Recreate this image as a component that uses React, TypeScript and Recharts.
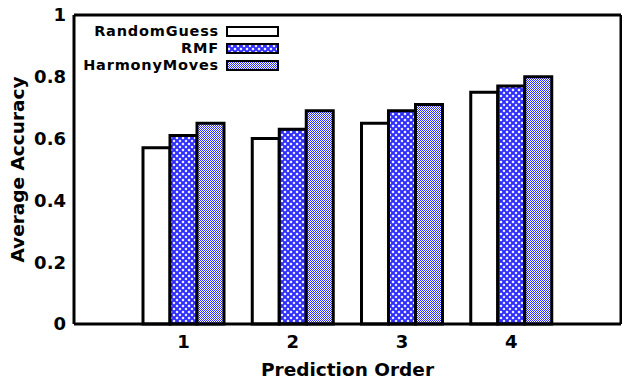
import { BarChart, Bar, XAxis, YAxis } from 'recharts'

const orders = ['1', '2', '3', '4']
const randomGuess = [0.57, 0.6, 0.65, 0.75]
const rmf = [0.61, 0.63, 0.69, 0.77]
const harmonyMoves = [0.65, 0.69, 0.71, 0.8]
const yTicks = [0, 0.2, 0.4, 0.6, 0.8, 1]
const seriesNames = ['RandomGuess', 'RMF', 'HarmonyMoves']

const data = orders.map((order, i) => ({
  order,
  randomGuess: randomGuess[i],
  rmf: rmf[i],
  harmonyMoves: harmonyMoves[i],
}))

const FONT = '"DejaVu Sans", Verdana, sans-serif'
const BLUE = '#2e2eff'

function Patterns({ prefix }: { prefix: string }) {
  return (
    <defs>
      <pattern id={`${prefix}Hatch`} width="6" height="6" patternUnits="userSpaceOnUse">
        <rect width="6" height="6" fill="#ffffff" />
        <path d="M-1,1 L1,-1 M0,6 L6,0 M5,7 L7,5" stroke={BLUE} strokeWidth="2" />
        <path d="M-1,5 L1,7 M0,0 L6,6 M5,-1 L7,1" stroke={BLUE} strokeWidth="2" />
      </pattern>
      <pattern id={`${prefix}Check`} width="2" height="2" patternUnits="userSpaceOnUse">
        <rect width="2" height="2" fill="#ffffff" />
        <rect width="1" height="1" fill={BLUE} />
        <rect x="1" y="1" width="1" height="1" fill={BLUE} />
      </pattern>
    </defs>
  )
}

const fillsFor = (prefix: string) => ['#ffffff', `url(#${prefix}Hatch)`, `url(#${prefix}Check)`]
const fills = fillsFor('bar')
const keyFills = fillsFor('key')

// key box drawn over the plot, top-left, gnuplot style
function LegendBox() {
  return (
    <div style={{ position: 'absolute', left: 40, top: 23, width: 239, fontFamily: FONT, fontWeight: 'bold', fontSize: 14.5, letterSpacing: 0.8 }}>
      {seriesNames.map((name, i) => (
        <div key={name} style={{ display: 'flex', alignItems: 'center', justifyContent: 'flex-end', height: 17 }}>
          <span style={{ lineHeight: '17px' }}>{name}</span>
          <svg width={53} height={11} style={{ marginLeft: 7, display: 'block' }}>
            <Patterns prefix="key" />
            <rect x={1} y={1} width={51} height={9} fill={keyFills[i]} stroke="#000" strokeWidth={2} />
          </svg>
        </div>
      ))}
    </div>
  )
}

const tickStyle = { fill: '#000', fontFamily: FONT, fontWeight: 'bold', fontSize: 18 }
const titleStyle = { fontFamily: FONT, fontWeight: 'bold', fontSize: 18.5 }

export default function App() {
  return (
    <div style={{ position: 'absolute', left: 0, top: 0, width: 622, height: 379, background: '#fff' }}>
      <BarChart
        width={622}
        height={379}
        data={data}
        margin={{ top: 15, right: 1, bottom: 0, left: 0 }}
        barGap={0}
        barCategoryGap={0}
      >
        <Patterns prefix="bar" />
        <XAxis
          xAxisId="main"
          dataKey="order"
          height={55}
          padding={{ left: 55, right: 55 }}
          axisLine={{ stroke: '#000', strokeWidth: 3 }}
          tickLine={false}
          tickSize={0}
          tickMargin={11}
          tick={tickStyle}
          label={{
            content: ({ viewBox }: any) => (
              <text
                x={viewBox.x + viewBox.width / 2}
                y={viewBox.y + 52}
                textAnchor="middle"
                fill="#000"
                style={titleStyle}
              >
                Prediction Order
              </text>
            ),
          }}
        />
        <XAxis
          xAxisId="bottomTicks"
          dataKey="order"
          mirror
          padding={{ left: 55, right: 55 }}
          axisLine={false}
          tick={false}
          tickSize={6}
          tickLine={{ stroke: '#000', strokeWidth: 3 }}
        />
        <XAxis
          xAxisId="top"
          dataKey="order"
          orientation="top"
          mirror
          padding={{ left: 55, right: 55 }}
          axisLine={{ stroke: '#000', strokeWidth: 3 }}
          tick={false}
          tickSize={6}
          tickLine={{ stroke: '#000', strokeWidth: 3 }}
        />
        <YAxis
          yAxisId="main"
          width={74}
          domain={[0, 1]}
          ticks={yTicks}
          axisLine={{ stroke: '#000', strokeWidth: 3 }}
          tickLine={false}
          tickSize={0}
          tickMargin={8}
          tick={tickStyle}
          label={{
            content: ({ viewBox }: any) => {
              const cx = 17
              const cy = viewBox.y + viewBox.height / 2
              return (
                <text
                  x={cx}
                  y={cy}
                  textAnchor="middle"
                  dominantBaseline="central"
                  transform={`rotate(-90, ${cx}, ${cy})`}
                  fill="#000"
                  style={titleStyle}
                >
                  Average Accuracy
                </text>
              )
            },
          }}
        />
        <YAxis
          yAxisId="leftTicks"
          mirror
          domain={[0, 1]}
          ticks={yTicks}
          axisLine={false}
          tick={false}
          tickSize={6}
          tickLine={{ stroke: '#000', strokeWidth: 3 }}
        />
        <YAxis
          yAxisId="right"
          orientation="right"
          mirror
          domain={[0, 1]}
          ticks={yTicks}
          axisLine={{ stroke: '#000', strokeWidth: 3 }}
          tick={false}
          tickSize={6}
          tickLine={{ stroke: '#000', strokeWidth: 3 }}
        />
        <Bar xAxisId="main" yAxisId="main" dataKey="randomGuess" name="RandomGuess" barSize={27} fill={fills[0]} stroke="#000" strokeWidth={3} isAnimationActive={false} />
        <Bar xAxisId="main" yAxisId="main" dataKey="rmf" name="RMF" barSize={27} fill={fills[1]} stroke="#000" strokeWidth={3} isAnimationActive={false} />
        <Bar xAxisId="main" yAxisId="main" dataKey="harmonyMoves" name="HarmonyMoves" barSize={27} fill={fills[2]} stroke="#000" strokeWidth={3} isAnimationActive={false} />
      </BarChart>
      <LegendBox />
    </div>
  )
}
